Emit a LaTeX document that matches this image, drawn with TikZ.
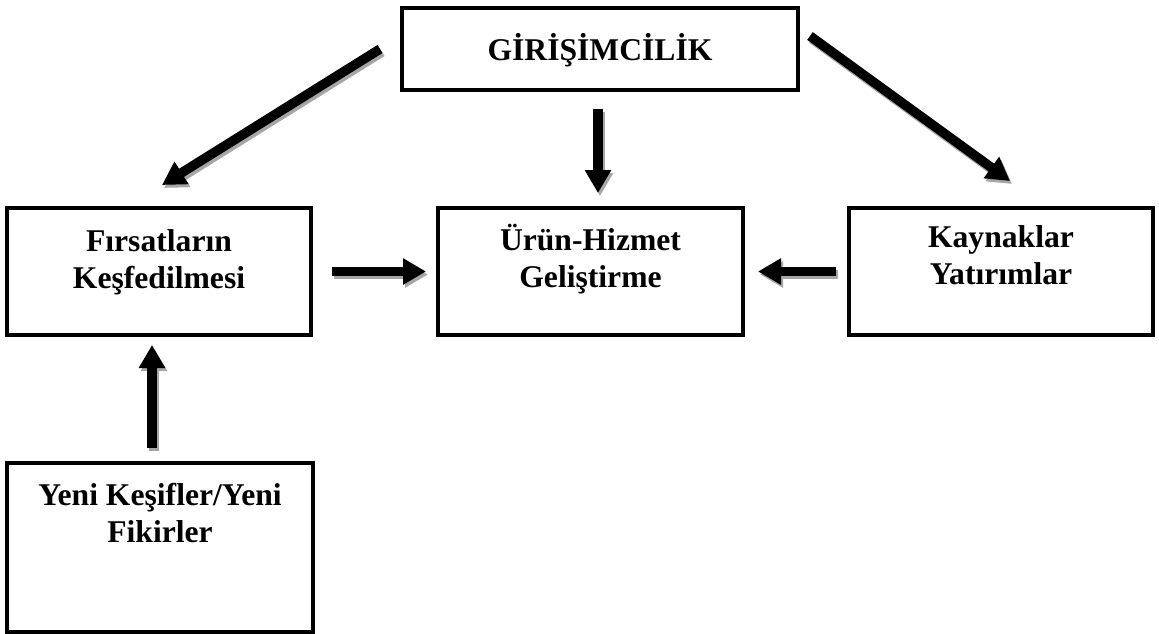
\documentclass[tikz,border=0pt]{standalone}
\usepackage{fontspec}
\setmainfont{Liberation Serif}
\usepackage{tikz}
\usetikzlibrary{arrows.meta,calc}

\begin{document}
\begin{tikzpicture}[
  box/.style={draw, line width=0.08cm, inner sep=0pt, fill=white},
  txt/.style={font=\bfseries\fontsize{18}{21}\selectfont, align=center, anchor=base, inner sep=0pt},
  arr/.style={line width=0.19cm, -{Triangle[length=0.46cm, width=0.5cm]}},
  shd/.style={arr, black!35, transform canvas={shift={(0.04,-0.06)}}}
]
\useasboundingbox (0,0) rectangle (23.18,-12.66);
% --- boxes ---
\node[box, minimum width=7.92cm, minimum height=1.64cm] (gir)  at (12.00,-0.98) {};
\node[box, minimum width=6.08cm, minimum height=2.54cm] (fir)  at (3.18,-5.43)  {};
\node[box, minimum width=6.10cm, minimum height=2.54cm] (uru)  at (11.81,-5.43) {};
\node[box, minimum width=6.08cm, minimum height=2.54cm] (kay)  at (20.02,-5.43) {};
\node[box, minimum width=6.12cm, minimum height=3.38cm] (yeni) at (3.20,-10.95) {};
% --- texts (base = last line) ---
\node[txt] (girt)  at ([yshift=-1.08cm]gir.north)  {GİRİŞİMCİLİK};
\node[txt] (firt)  at ([yshift=-1.64cm]fir.north)  {Fırsatların\\Keşfedilmesi};
\node[txt] (urut)  at ([yshift=-1.62cm]uru.north)  {Ürün-Hizmet\\Geliştirme};
\node[txt] (kayt)  at ([yshift=-1.56cm]kay.north)  {Kaynaklar\\Yatırımlar};
\node[txt] (yenit) at ([yshift=-1.62cm]yeni.north) {Yeni Keşifler/Yeni\\Fikirler};
% --- arrows (shadow first) ---
\foreach \st in {shd, arr} {
  \draw[\st] ([xshift=-0.40cm]gir.west) -- ([shift={(0.06,0.42)}]fir.north);
  \draw[\st] ([shift={(0.20,-0.60)}]gir.north east) -- ([shift={(0.18,0.50)}]kay.north);
  \draw[\st] ([shift={(-0.04,-0.34)}]gir.south) -- ([shift={(-0.04,0.26)}]uru.north -| gir.south);
  \draw[\st] ([xshift=0.38cm]fir.east) -- ([xshift=-0.20cm]uru.west);
  \draw[\st] ([xshift=-0.22cm]kay.west) -- ([xshift=0.26cm]uru.east);
  \draw[\st] ([shift={(-0.16,0.26)}]yeni.north) -- ([shift={(-0.14,-0.16)}]fir.south);
}
\end{tikzpicture}
\end{document}
